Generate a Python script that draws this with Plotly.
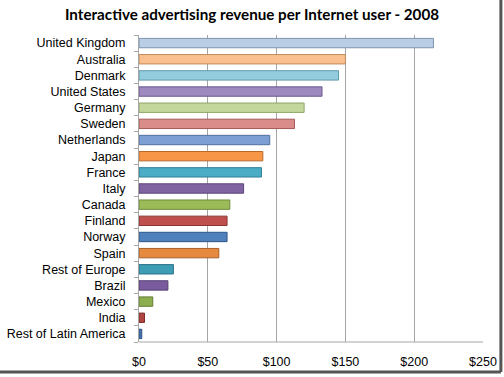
import plotly.graph_objects as go

categories = ["United Kingdom", "Australia", "Denmark", "United States", "Germany", "Sweden",
              "Netherlands", "Japan", "France", "Italy", "Canada", "Finland", "Norway", "Spain",
              "Rest of Europe", "Brazil", "Mexico", "India", "Rest of Latin America"]
values = [214, 150, 145, 133, 120, 113, 95, 90, 89, 76, 66, 64, 64, 58, 25, 21, 10, 4, 2]
colors = ["#B9CDE5", "#FAC090", "#93CDDD", "#9F8AC0", "#C3D69B", "#D98C8A", "#7E9FD4",
          "#F79646", "#4BACC6", "#8064A2", "#9BBB59", "#C0504D", "#4F81BD", "#E5893F",
          "#3D9DB5", "#7A5C9E", "#8DAE4E", "#B04440", "#4474AE"]
line_colors = ["#7F93B0", "#C08A5A", "#5E9AAA", "#6A5890", "#8FA566", "#A35A58", "#51709F",
               "#B86A2A", "#2F7F95", "#5A4578", "#6F8A3B", "#8A3330", "#30568A", "#A9612A",
               "#2A7388", "#553F74", "#647D35", "#7E2E2B", "#2E5182"]
tick_vals = [0, 50, 100, 150, 200, 250]
tick_text = ["$0", "$50", "$100", "$150", "$200", "$250"]

cats = categories[::-1]
vals = values[::-1]
cols = colors[::-1]
lcols = line_colors[::-1]

fig = go.Figure()
fig.add_trace(go.Bar(
    y=cats, x=vals, orientation="h",
    marker=dict(color=cols, line=dict(color=lcols, width=1)),
    width=0.58,
))

fig.update_layout(
    width=504, height=377,
    margin=dict(l=139, r=21, t=35, b=35),
    paper_bgcolor="white", plot_bgcolor="white",
    showlegend=False,
    title=dict(text="<b>Interactive advertising revenue per Internet user - 2008</b>",
               x=0.5, xanchor="center", y=0.96, yanchor="middle",
               font=dict(family="Lato", size=15.2, color="#000000")),
    font=dict(family="Liberation Sans, Arial", size=12.5, color="#000000"),
    xaxis=dict(range=[0, 250], tickvals=tick_vals, ticktext=tick_text,
               showgrid=True, gridcolor="#A6A6A6", gridwidth=1,
               zeroline=False, showline=False, ticks="",
               ticklabelstandoff=10, automargin=False,
               tickfont=dict(size=12.5), fixedrange=True),
    yaxis=dict(showgrid=False, showline=True, linecolor="#A6A6A6", linewidth=1,
               ticks="outside", ticklen=4, tickcolor="#A6A6A6", tickson="boundaries",
               range=[-0.5, 18.5], ticklabelstandoff=10, automargin=False,
               tickfont=dict(size=12.5), fixedrange=True),
    bargap=0.38,
)

# Bottom "floor" line
fig.add_shape(type="line", xref="paper", yref="paper", x0=0, x1=1, y0=0, y1=0,
              line=dict(color="#A6A6A6", width=1))
# Picture frame shadow
fig.add_shape(type="line", xref="paper", yref="paper", x0=1.052, x1=1.052, y0=-0.098, y1=1.12,
              line=dict(color="#555555", width=3))
fig.add_shape(type="line", xref="paper", yref="paper", x0=-0.41, x1=1.052, y0=-0.098, y1=-0.098,
              line=dict(color="#555555", width=3))

fig.write_html("out.html", config={"displayModeBar": False},
               post_script="document.body.style.margin='0px';document.body.style.overflow='hidden';")
